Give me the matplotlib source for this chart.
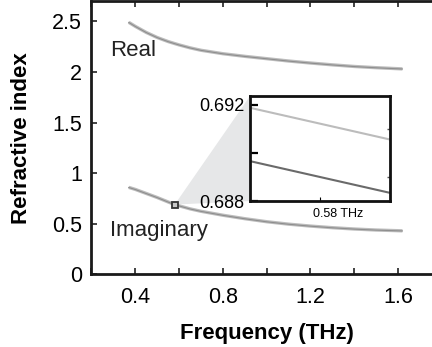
import numpy as np
import matplotlib.pyplot as plt
from matplotlib.patches import Polygon

plt.rcParams['font.family'] = ['Liberation Sans', 'DejaVu Sans']

# frequency (THz) and refractive index
freq = [0.37, 0.40, 0.45, 0.50, 0.55, 0.58, 0.60, 0.65, 0.70, 0.80, 0.90,
        1.00, 1.10, 1.20, 1.30, 1.40, 1.50, 1.62]
real_a = [2.490, 2.450, 2.390, 2.340, 2.300, 2.280, 2.267, 2.238, 2.214, 2.180,
          2.154, 2.131, 2.108, 2.088, 2.070, 2.054, 2.042, 2.030]
real_b = [2.489, 2.449, 2.389, 2.339, 2.299, 2.279, 2.266, 2.237, 2.213, 2.179,
          2.153, 2.130, 2.107, 2.087, 2.069, 2.053, 2.041, 2.029]
imag_a = [0.860, 0.840, 0.800, 0.760, 0.716, 0.691, 0.678, 0.648, 0.624, 0.585,
          0.551, 0.521, 0.497, 0.478, 0.462, 0.449, 0.439, 0.431]
imag_b = [0.859, 0.839, 0.799, 0.759, 0.715, 0.690, 0.677, 0.647, 0.623, 0.584,
          0.550, 0.520, 0.496, 0.477, 0.461, 0.448, 0.438, 0.430]

# zoomed region around 0.58 THz
zoom_f = [0.579, 0.581]
zoom_a = [0.69188, 0.69056]
zoom_b = [0.68966, 0.68834]
mark_f = 0.58
mark_n = 0.69

light = '#bcbcbc'
dark = '#6a6a6a'

fig = plt.figure(figsize=(4.32, 3.47), dpi=100)
ax = fig.add_axes([0.2118, 0.209, 0.811, 0.788])

ax.plot(freq, real_a, color=light, lw=2.4, solid_capstyle='butt')
ax.plot(freq, real_b, color='#8e8e8e', lw=0.8)
ax.plot(freq, imag_a, color=light, lw=2.4, solid_capstyle='butt')
ax.plot(freq, imag_b, color='#8e8e8e', lw=0.8)
ax.plot([mark_f], [mark_n], 's', ms=4.5, mfc='#c8c8c8', mec='#333333', mew=1.3, zorder=5)

ax.set_xlim(0.2, 1.8)
ax.set_ylim(0, 2.7)
ax.set_xticks([0.4, 0.8, 1.2, 1.6])
ax.set_xticks([0.2, 0.6, 1.0, 1.4], minor=True)
ax.set_yticks([0, 0.5, 1, 1.5, 2, 2.5])
ax.set_yticklabels(['0', '0.5', '1', '1.5', '2', '2.5'])
ax.set_xticklabels(['0.4', '0.8', '1.2', '1.6'])
ax.tick_params(which='both', direction='in', length=4, width=1.2,
               top=True, right=False, labelsize=15.5, color='#222222')
ax.tick_params(axis='x', pad=9)
ax.tick_params(axis='y', pad=7)
for s in ax.spines.values():
    s.set_linewidth(2)
    s.set_color('#1a1a1a')

ax.set_xlabel('Frequency (THz)', fontsize=16, fontweight='bold', labelpad=11)
ax.set_ylabel('Refractive index', fontsize=16, fontweight='bold', labelpad=14)

ax.text(0.284, 2.21, 'Real', fontsize=16, va='center', color='#222222')
ax.text(0.284, 0.43, 'Imaginary', fontsize=16, va='center', color='#222222')

# inset
ins = fig.add_axes([0.5787, 0.4207, 0.324, 0.3026])
ins.plot(zoom_f, zoom_a, color=light, lw=1.5)
ins.plot(zoom_f, zoom_b, color=dark, lw=1.5)
ins.set_xlim(0.579, 0.581)
ins.set_ylim(0.688, 0.69237)
ins.set_xticks([0.58])
ins.set_xticklabels([])
ins.set_yticks([0.688, 0.690, 0.692])
ins.set_yticklabels(['0.688', '', '0.692'])
ins.tick_params(axis='y', direction='in', length=6, width=1.6, labelsize=13, pad=4)
ins.tick_params(axis='x', direction='in', length=3, width=0.8)
ins.set_yticks([0.689, 0.690, 0.691, 0.692], minor=True)
ins.tick_params(axis='y', which='minor', left=False, right=True, direction='in',
                length=2, width=1, color='#555555')
for s in ins.spines.values():
    s.set_linewidth(2)
    s.set_color('#111111')
ins.text(0.45, -0.12, '0.58 THz', transform=ins.transAxes, fontsize=9,
         ha='left', va='center')

# shaded connection from marker to inset
inv = ax.transData.inverted()
bb = ins.get_position()
tl = inv.transform(fig.transFigure.transform((bb.x0, bb.y1)))
bl = inv.transform(fig.transFigure.transform((bb.x0, bb.y0)))
ax.add_patch(Polygon([(mark_f, mark_n), tl, bl], closed=True, facecolor='#e6e7e8',
                     edgecolor='none', zorder=0))

fig.savefig('out.png', dpi=100)
